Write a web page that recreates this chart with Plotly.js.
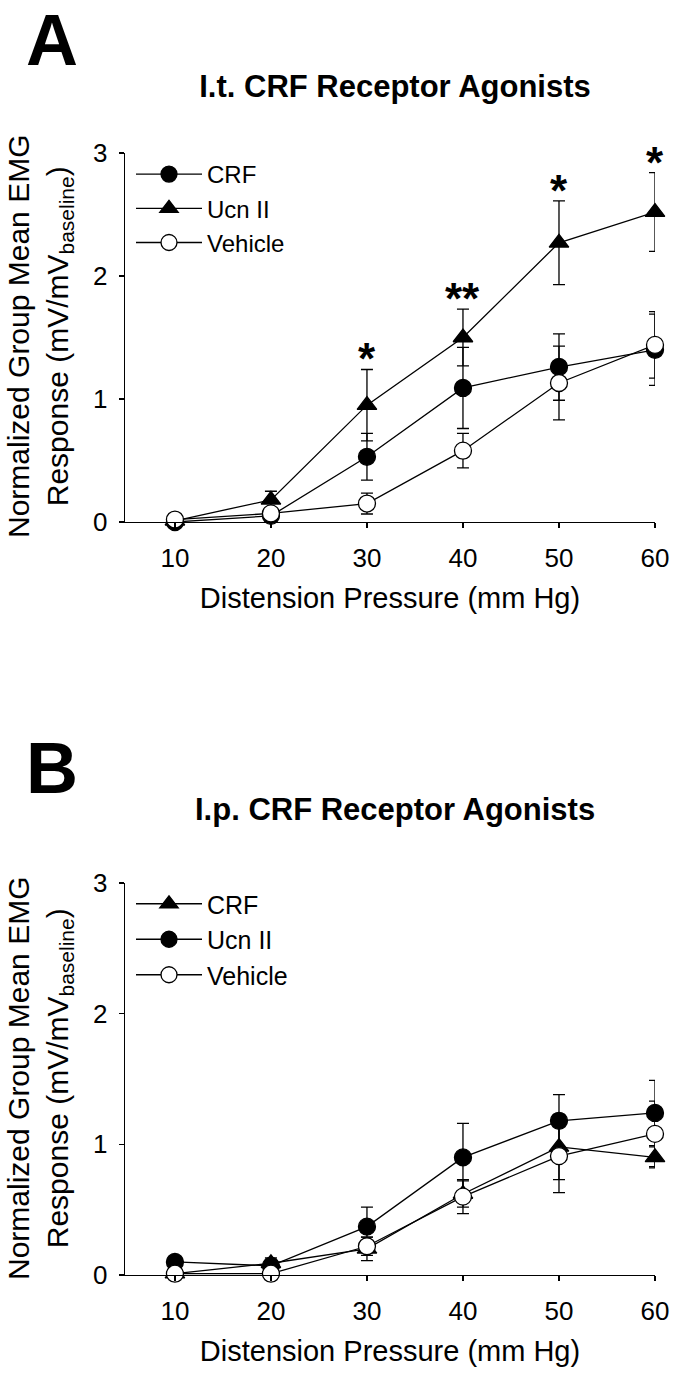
<!DOCTYPE html>
<html><head><meta charset="utf-8">
<script src="https://cdn.plot.ly/plotly-3.0.1.min.js"></script>
<style>html,body{margin:0;padding:0;background:#fff}#chart{width:685px;height:1386px}</style>
</head><body><div id="chart"></div>
<script>
// ---------- data ----------
const pressure = [10, 20, 30, 40, 50, 60];
const xTickVals = [10, 20, 30, 40, 50, 60];
const yTickVals = [0, 1, 2, 3];
const seriesNames = ['CRF', 'Ucn II', 'Vehicle'];

// Panel A: I.t. CRF receptor agonists
const aCRF      = [0.00, 0.05, 0.53, 1.09, 1.26, 1.40];
const aCRFErr   = [0.01, 0.02, 0.19, 0.33, 0.27, 0.29];
const aUcn      = [0.01, 0.18, 0.95, 1.50, 2.27, 2.52];
const aUcnErr   = [0.01, 0.07, 0.29, 0.23, 0.34, 0.32];
const aVeh      = [0.02, 0.07, 0.15, 0.58, 1.13, 1.44];
const aVehErr   = [0.01, 0.02, 0.085, 0.14, 0.30, 0.27];
const aSig      = ['', '', '*', '**', '*', '*'];

// Panel B: I.p. CRF receptor agonists
const bCRF      = [0.01, 0.09, 0.20, 0.62, 0.98, 0.90];
const bCRFErr   = [0.01, 0.04, 0.09, 0.10, 0.25, 0.08];
const bUcn      = [0.10, 0.07, 0.37, 0.90, 1.18, 1.24];
const bUcnErr   = [0.02, 0.02, 0.15, 0.26, 0.20, 0.25];
const bVeh      = [0.01, 0.01, 0.22, 0.60, 0.91, 1.08];
const bVehErr   = [0.01, 0.01, 0.07, 0.13, 0.28, 0.25];

const titleA = 'I.t. CRF Receptor Agonists';
const titleB = 'I.p. CRF Receptor Agonists';
const xTitle = 'Distension Pressure (mm Hg)';
const yTitle = 'Normalized Group Mean EMG<br>Response (mV/mV<sub>baseline</sub>)';

// ---------- figure ----------
const W = 685, H = 1386;
const px = v => v / W;
const py = v => 1 - v / H;

function trace(name, y, err, symbol, fill, xa, ya, leg) {
  return {
    type: 'scatter', mode: 'lines+markers', name: name,
    x: pressure, y: y, xaxis: xa, yaxis: ya, legend: leg,
    line: {color: '#000', width: 1.3},
    marker: {symbol: symbol, size: 17, color: fill, line: {color: '#000', width: 1.3}},
    error_y: {type: 'data', array: err, visible: true, color: '#000', thickness: 1.3, width: 6},
    cliponaxis: false
  };
}

const data = [
  trace(seriesNames[0], aCRF, aCRFErr, 'circle', '#000', 'x', 'y', 'legend'),
  trace(seriesNames[1], aUcn, aUcnErr, 'triangle-up', '#000', 'x', 'y', 'legend'),
  trace(seriesNames[2], aVeh, aVehErr, 'circle', '#fff', 'x', 'y', 'legend'),
  trace(seriesNames[0], bCRF, bCRFErr, 'triangle-up', '#000', 'x2', 'y2', 'legend2'),
  trace(seriesNames[1], bUcn, bUcnErr, 'circle', '#000', 'x2', 'y2', 'legend2'),
  trace(seriesNames[2], bVeh, bVehErr, 'circle', '#fff', 'x2', 'y2', 'legend2')
];

const FONT = 'Arial, "Liberation Sans", sans-serif';

function xAxis(anchor) {
  return {
    domain: [px(125), px(655)], range: [4.8, 60], anchor: anchor,
    tickmode: 'array', tickvals: xTickVals,
    ticks: 'outside', ticklen: 5, tickwidth: 1.3, tickcolor: '#000',
    showline: true, linecolor: '#000', linewidth: 1.3,
    showgrid: false, zeroline: false,
    tickfont: {size: 26, color: '#000'}, ticklabelstandoff: 7,
    title: {text: xTitle, font: {size: 29, color: '#000'}, standoff: 16}
  };
}
function yAxis(anchor, top, bottom) {
  return {
    domain: [py(bottom), py(top)], range: [0, 3], anchor: anchor,
    tickmode: 'array', tickvals: yTickVals,
    ticks: 'outside', ticklen: 5, tickwidth: 1.3, tickcolor: '#000',
    showline: true, linecolor: '#000', linewidth: 1.3,
    showgrid: false, zeroline: false,
    tickfont: {size: 26, color: '#000'}, ticklabelstandoff: 6
  };
}

const annotations = [
  {text: '<b>A</b>', xref: 'paper', yref: 'paper', x: px(52), y: py(40), xanchor: 'center', yanchor: 'middle', showarrow: false, font: {size: 72}},
  {text: '<b>B</b>', xref: 'paper', yref: 'paper', x: px(52), y: py(768), xanchor: 'center', yanchor: 'middle', showarrow: false, font: {size: 72}},
  {text: '<b>' + titleB + '</b>', xref: 'paper', yref: 'paper', x: px(395), y: py(809), xanchor: 'center', yanchor: 'middle', showarrow: false, font: {size: 31}},
  {text: yTitle, xref: 'paper', yref: 'paper', x: px(40), y: py(337), xanchor: 'center', yanchor: 'middle', textangle: -90, showarrow: false, font: {size: 30}},
  {text: yTitle, xref: 'paper', yref: 'paper', x: px(40), y: py(1079), xanchor: 'center', yanchor: 'middle', textangle: -90, showarrow: false, font: {size: 30}}
];
aSig.forEach((s, i) => {
  if (s) annotations.push({
    text: '<b>' + s + '</b>', xref: 'x', yref: 'y', x: pressure[i], y: aUcn[i] + aUcnErr[i],
    xanchor: 'center', yanchor: 'bottom', yshift: -16, showarrow: false, font: {size: 44}
  });
});

const layout = {
  width: W, height: H,
  margin: {l: 0, r: 0, t: 0, b: 0},
  paper_bgcolor: '#fff', plot_bgcolor: '#fff',
  font: {family: FONT, color: '#000'},
  title: {text: '<b>' + titleA + '</b>', xref: 'container', yref: 'container', x: px(395), y: py(86), xanchor: 'center', yanchor: 'middle', font: {size: 31}},
  xaxis: xAxis('y'), yaxis: yAxis('x', 153, 522),
  xaxis2: xAxis('y2'), yaxis2: yAxis('x2', 883, 1275),
  showlegend: true,
  legend: {x: px(131), xanchor: 'left', y: py(152), yanchor: 'top', font: {size: 24}, bgcolor: 'rgba(0,0,0,0)', borderwidth: 0, itemwidth: 66, tracegroupgap: 0},
  legend2: {x: px(131), xanchor: 'left', y: py(881), yanchor: 'top', font: {size: 25}, bgcolor: 'rgba(0,0,0,0)', borderwidth: 0, itemwidth: 66, tracegroupgap: 0},
  annotations: annotations
};

Plotly.newPlot('chart', data, layout, {displayModeBar: false, staticPlot: true});
</script></body></html>
